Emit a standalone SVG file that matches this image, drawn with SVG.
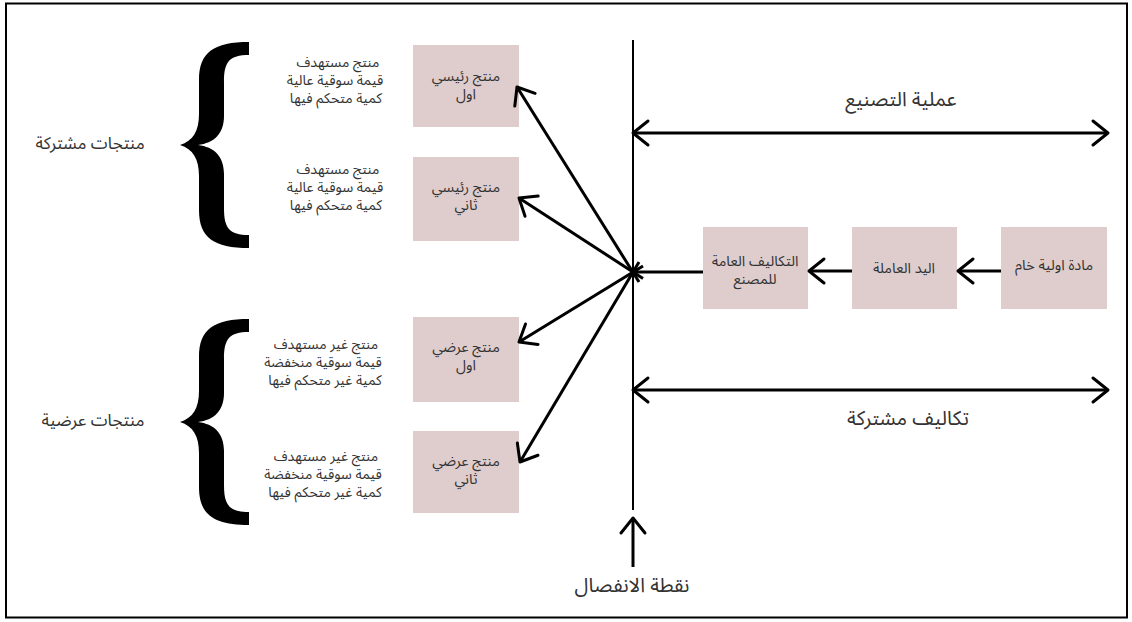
<svg xmlns="http://www.w3.org/2000/svg" xmlns:xlink="http://www.w3.org/1999/xlink" width="1132" height="622" viewBox="0 0 1132 622">
<style>
.box{fill:#dfcdcd;}
.t{font-family:"Noto Sans Arabic","Noto Sans","DejaVu Sans",sans-serif;fill:#333;text-anchor:middle;}
.sd{font-size:14px;}
.sb{font-size:14.5px;}
.sg{font-size:17px;}
.sl{font-size:20px;}
.ln{stroke:#000;stroke-width:3;fill:none;}
.thin{stroke:#000;stroke-width:2;fill:none;}
</style>
<defs>
<marker id="ah" markerUnits="userSpaceOnUse" markerWidth="40" markerHeight="40" viewBox="-20 -20 40 40" refX="0" refY="0" orient="auto-start-reverse" overflow="visible">
<path d="M-15,-12 L0,0 L-15,12" fill="none" stroke="#000" stroke-width="3" stroke-linecap="round" stroke-linejoin="round"/>
</marker>
<path id="brace" d="M249 42 L249 55 C229 55 224 62 224 82 L224 116 C224 134 214 143 198 145 C214 147 224 156 224 174 L224 208 C224 228 229 235 249 235 L249 248 C214 248 199 238 199 210 L199 176 C199 159 193 149 180 145 C193 141 199 131 199 114 L199 80 C199 52 214 42 249 42 Z" fill="#000"/>
</defs>
<rect x="6" y="3.5" width="1121" height="614" fill="#fff" stroke="#000" stroke-width="2"/>

<g id="brace-top"><use xlink:href="#brace" href="#brace"/></g>
<g id="brace-bottom"><use xlink:href="#brace" href="#brace" transform="translate(0,277)"/></g>

<g id="label-joint"><text class="t sg" x="90" y="149">منتجات مشتركة</text></g>
<g id="label-byproducts"><text class="t sg" x="93" y="426">منتجات عرضية</text></g>

<g id="desc1">
<text class="t sd" x="338" y="67">منتج مستهدف</text>
<text class="t sd" x="335" y="85">قيمة سوقية عالية</text>
<text class="t sd" x="336" y="103">كمية متحكم فيها</text>
</g>
<g id="desc2">
<text class="t sd" x="338" y="174">منتج مستهدف</text>
<text class="t sd" x="335" y="192">قيمة سوقية عالية</text>
<text class="t sd" x="336" y="210">كمية متحكم فيها</text>
</g>
<g id="desc3">
<text class="t sd" x="326" y="349">منتج غير مستهدف</text>
<text class="t sd" x="323" y="367">قيمة سوقية منخفضة</text>
<text class="t sd" x="325" y="385">كمية غير متحكم فيها</text>
</g>
<g id="desc4">
<text class="t sd" x="326" y="461">منتج غير مستهدف</text>
<text class="t sd" x="323" y="479">قيمة سوقية منخفضة</text>
<text class="t sd" x="325" y="497">كمية غير متحكم فيها</text>
</g>

<g id="main1"><rect class="box" x="413" y="45" width="106" height="82"/>
<text class="t sb" x="466" y="81">منتج رئيسي</text><text class="t sb" x="466" y="99">اول</text></g>
<g id="main2"><rect class="box" x="413" y="157" width="106" height="84"/>
<text class="t sb" x="466" y="192">منتج رئيسي</text><text class="t sb" x="466" y="210">ثاني</text></g>
<g id="by1"><rect class="box" x="413" y="317" width="106" height="85"/>
<text class="t sb" x="466" y="352">منتج عرضي</text><text class="t sb" x="466" y="370">اول</text></g>
<g id="by2"><rect class="box" x="413" y="431" width="106" height="82"/>
<text class="t sb" x="466" y="466">منتج عرضي</text><text class="t sb" x="466" y="484">ثاني</text></g>

<g id="overhead"><rect class="box" x="703" y="227" width="105" height="82"/>
<text class="t sb" x="755" y="266">التكاليف العامة</text><text class="t sb" x="755" y="284">للمصنع</text></g>
<g id="labor"><rect class="box" x="852" y="227" width="105" height="82"/>
<text class="t sb" x="904" y="273">اليد العاملة</text></g>
<g id="raw"><rect class="box" x="1001" y="227" width="106" height="82"/>
<text class="t sb" x="1054" y="270">مادة اولية خام</text></g>

<g id="label-process"><text class="t sl" x="901" y="106">عملية التصنيع</text></g>
<g id="label-costs"><text class="t sl" x="908" y="425">تكاليف مشتركة</text></g>
<g id="label-split"><text class="t sl" x="632" y="592">نقطة الانفصال</text></g>

<g id="connectors">
<line class="thin" x1="633" y1="40" x2="633" y2="510"/>
<line class="ln" x1="633" y1="567" x2="633" y2="518" marker-end="url(#ah)"/>
<line class="ln" x1="633" y1="133" x2="1108" y2="133" marker-start="url(#ah)" marker-end="url(#ah)"/>
<line class="ln" x1="633" y1="390" x2="1108" y2="390" marker-start="url(#ah)" marker-end="url(#ah)"/>
<line class="ln" x1="1001" y1="271" x2="958" y2="271" marker-end="url(#ah)"/>
<line class="ln" x1="852" y1="271" x2="809" y2="271" marker-end="url(#ah)"/>
<line class="ln" x1="703" y1="272" x2="633" y2="272"/>
<line class="ln" x1="639" y1="282" x2="517" y2="87" marker-end="url(#ah)"/>
<line class="ln" x1="643" y1="278.5" x2="519" y2="198" marker-end="url(#ah)"/>
<line class="ln" x1="643" y1="266" x2="519" y2="342" marker-end="url(#ah)"/>
<line class="ln" x1="639" y1="262" x2="520" y2="462" marker-end="url(#ah)"/>
</g>
</svg>
